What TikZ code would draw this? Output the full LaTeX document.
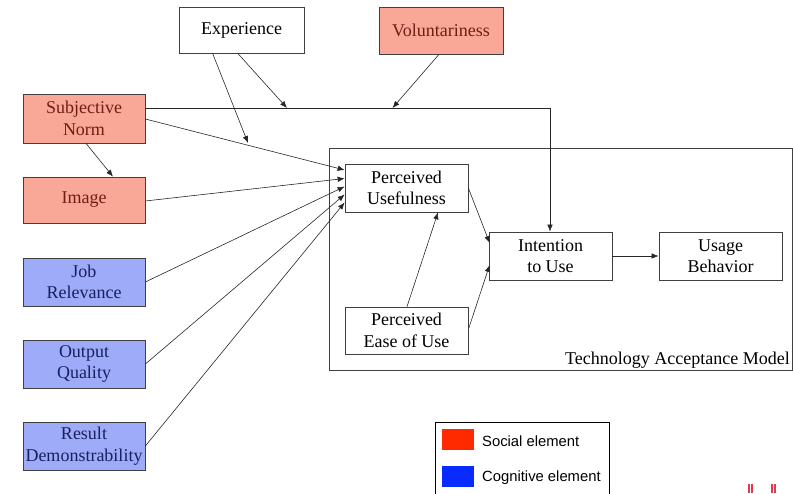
\documentclass[tikz,border=0pt]{standalone}
\usepackage{fontspec}
\setmainfont{Liberation Serif}
\newfontfamily\legendfont{Liberation Sans}
\usetikzlibrary{arrows.meta,calc}
\definecolor{socfill}{HTML}{F9A797}
\definecolor{soctext}{HTML}{6E1E14}
\definecolor{cogfill}{HTML}{9DABF9}
\definecolor{cogtext}{HTML}{18205E}
\definecolor{legred}{HTML}{FF2A00}
\definecolor{legblue}{HTML}{0A2BFF}
\definecolor{markred}{HTML}{E03A50}
\tikzset{
  box/.style={draw=black!75, line width=0.7pt, minimum width=122pt, minimum height=47pt, align=center, inner sep=0pt, font=\fontsize{18}{21.5}\selectfont},
  social/.style={box, fill=socfill, text=soctext},
  cognitive/.style={box, fill=cogfill, text=cogtext},
  plain/.style={box, fill=white, text=black},
  conn/.style={draw=black!85, line width=0.6pt, -{Latex[length=7pt,width=5.5pt]}},
  legtext/.style={anchor=west, font=\legendfont\fontsize{14.8}{17}\selectfont, inner sep=0pt}
}
\begin{document}
\begin{tikzpicture}[x=1pt,y=-1pt]
\useasboundingbox (0,0) rectangle (793,493);
% TAM frame
\node[draw=black!75, line width=0.7pt, minimum width=463pt, minimum height=222pt, inner sep=0pt] (tam) at (560.5,259) {};
\node[anchor=south east, inner sep=1pt, font=\fontsize{18}{21.5}\selectfont] (tamlabel) at (791,370) {Technology Acceptance Model};
% nodes
\node[plain, minimum width=125pt, minimum height=46pt] (exp) at (241.5,30) {Experience};
\node[social, minimum width=124pt, minimum height=47pt] (vol) at (441,30.5) {Voluntariness};
\node[social, minimum height=49pt] (sn) at (84,118.5) {Subjective\\Norm};
\node[social, minimum height=46pt] (img) at (84,200) {Image};
\node[cognitive, minimum height=48pt] (jr) at (84,282) {Job\\Relevance};
\node[cognitive, minimum height=48pt] (oq) at (84,364) {Output\\Quality};
\node[cognitive, minimum height=48pt] (rd) at (84,446) {Result\\Demonstrability};
\node[plain, minimum width=123pt, minimum height=48pt] (pu) at (406.5,188) {Perceived\\Usefulness};
\node[plain, minimum width=123pt, minimum height=48pt] (itu) at (550.5,256) {Intention\\to Use};
\node[plain, minimum width=123pt, minimum height=48pt] (ub) at (720.5,256) {Usage\\Behavior};
\node[plain, minimum width=123pt, minimum height=47pt] (peou) at (406.5,330.5) {Perceived\\Ease of Use};
% helper coordinates
\coordinate (corner) at (550,108);
\coordinate (snh) at (sn.east |- corner);
\coordinate (e1) at (287,108);
\coordinate (v1) at (392.5,108);
\coordinate (e2) at (248,143);
\coordinate (es1) at ($(exp.south west)!0.47!(exp.south east)$);
\coordinate (es2) at ($(exp.south west)!0.27!(exp.south east)$);
\coordinate (vs) at ($(vol.south)+(-2,0)$);
\coordinate (snr) at ($(sn.east)+(0,0.5)$);
\coordinate (snb) at ($(sn.south)+(2,0)$);
\coordinate (imgt) at ($(img.north)+(29,0)$);
\coordinate (ie) at ($(img.east)+(0,1)$);
\coordinate (pu1) at ($(pu.west)+(0,-18)$);
\coordinate (pu2) at ($(pu.west)+(0,-9.5)$);
\coordinate (pu3) at ($(pu.west)+(0,-1.5)$);
\coordinate (pu4) at ($(pu.west)+(0,6.5)$);
\coordinate (pu5) at ($(pu.west)+(0,14.5)$);
\coordinate (pur) at ($(pu.east)+(0,0)$);
\coordinate (pub) at ($(pu.south)+(31.5,0)$);
\coordinate (peout) at ($(peou.north)+(0.5,0)$);
\coordinate (peour) at ($(peou.east)+(0.5,-2.5)$);
\coordinate (itu1) at ($(itu.west)+(1,-13)$);
\coordinate (itu2) at ($(itu.west)+(1,9)$);
% connectors
\draw[conn] (snh) -- (corner) -- (itu.north -| corner);
\draw[conn] (es1) -- (e1);
\draw[conn] (vs) -- (v1);
\draw[conn] (snr) -- (pu1);
\draw[conn] (es2) -- (e2);
\draw[conn] (snb) -- (imgt);
\draw[conn] (ie) -- (pu2);
\draw[conn] (jr.east) -- (pu3);
\draw[conn] (oq.east) -- (pu4);
\draw[conn] (rd.east) -- (pu5);
\draw[conn] (pur) -- (itu1);
\draw[conn] (peour) -- (itu2);
\draw[conn] (peout) -- (pub);
\draw[conn] (itu.east) -- (ub.west);
% legend
\node[draw=black, line width=1.2pt, minimum width=174pt, minimum height=80pt, anchor=north west, inner sep=0pt] (legend) at (435,422) {};
\fill[legred] (442,429) rectangle (474,450);
\fill[legblue] (442,466) rectangle (474,487);
\node[legtext] (lsoc) at (482,441) {Social element};
\node[legtext] (lcog) at (482,478) {Cognitive element};
% red marks
\fill[markred] (748.3,484) rectangle (749.9,493);
\fill[markred] (750.8,484) rectangle (752.5,493);
\fill[markred] (771.3,484) rectangle (772.9,493);
\fill[markred] (773.8,484) rectangle (775.5,493);
\end{tikzpicture}
\end{document}
